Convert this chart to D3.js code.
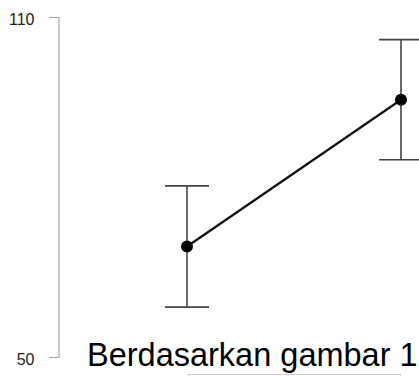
<!DOCTYPE html>
<html>
<head>
<meta charset="utf-8">
<script src="https://cdn.jsdelivr.net/npm/d3@7"></script>
<style>
  body { margin: 0; background: #fff; }
  svg { display: block; }
  .y-axis text { font-size: 16px; font-family: 'Liberation Sans', Arial, sans-serif; }
</style>
</head>
<body>
<div id="wrapper"></div>
<script>
// data
const groups = ["A", "B"]
const means = [69.5, 95.4]
const errors = [10.7, 10.6]
const yTicks = [50, 110]
const caption = "Berdasarkan gambar 1"

function drawChart() {
    const dimensions = {
        width: 419,
        height: 376,
    }

    const wrapper = d3.select("#wrapper")
        .append("svg")
        .attr("width", dimensions.width)
        .attr("height", dimensions.height)

    const data = groups.map((g, i) => ({ group: g, mean: means[i], err: errors[i] }))

    // scales
    const xScale = d3.scalePoint()
        .domain(groups)
        .range([187, 401])

    const yScale = d3.scaleLinear()
        .domain([50, 110])
        .range([357, 17])

    // y axis
    const yAxisGenerator = d3.axisLeft(yScale)
        .tickValues(yTicks)
        .tickSize(9)
        .tickSizeOuter(9)
        .tickPadding(15)

    const yAxis = wrapper.append("g")
        .attr("class", "y-axis")
        .attr("transform", "translate(58.5,0)")
        .call(yAxisGenerator)
        .attr("font-size", 16)

    yAxis.select(".domain").attr("stroke", "#aaa").attr("stroke-width", 1.2)
    yAxis.selectAll(".tick line").attr("stroke", "#aaa").attr("stroke-width", 1.2)
    yAxis.selectAll(".tick text")
        .attr("fill", "#222")
        .attr("dy", "0.45em")

    // error bars
    const capHalf = 22
    const bars = wrapper.append("g")
        .attr("stroke", "#444")
        .attr("stroke-width", 1.6)

    bars.selectAll(".stem")
        .data(data)
        .join("line")
        .attr("x1", d => xScale(d.group))
        .attr("x2", d => xScale(d.group))
        .attr("y1", d => yScale(d.mean + d.err))
        .attr("y2", d => yScale(d.mean - d.err))

    bars.selectAll(".capTop")
        .data(data)
        .join("line")
        .attr("x1", d => xScale(d.group) - capHalf)
        .attr("x2", d => xScale(d.group) + capHalf)
        .attr("y1", d => yScale(d.mean + d.err))
        .attr("y2", d => yScale(d.mean + d.err))

    bars.selectAll(".capBottom")
        .data(data)
        .join("line")
        .attr("x1", d => xScale(d.group) - capHalf)
        .attr("x2", d => xScale(d.group) + capHalf)
        .attr("y1", d => yScale(d.mean - d.err))
        .attr("y2", d => yScale(d.mean - d.err))

    // mean line
    const lineGenerator = d3.line()
        .x(d => xScale(d.group))
        .y(d => yScale(d.mean))

    wrapper.append("path")
        .datum(data)
        .attr("d", lineGenerator)
        .attr("fill", "none")
        .attr("stroke", "#111")
        .attr("stroke-width", 2.2)

    wrapper.selectAll(".point")
        .data(data)
        .join("circle")
        .attr("cx", d => xScale(d.group))
        .attr("cy", d => yScale(d.mean))
        .attr("r", 6)
        .attr("fill", "#000")

    // caption text overlapping the bottom
    wrapper.append("text")
        .attr("x", 87)
        .attr("y", 366)
        .style("font-family", "'Liberation Sans', Arial, sans-serif")
        .style("font-size", "32.5px")
        .attr("fill", "#000")
        .text(caption)

    // faint box edge under caption
    wrapper.append("path")
        .attr("d", "M188.5,376V374.5H400.5V376")
        .attr("fill", "none")
        .attr("stroke", "#ccc")
        .attr("stroke-width", 1)
}
drawChart()
</script>
</body>
</html>
